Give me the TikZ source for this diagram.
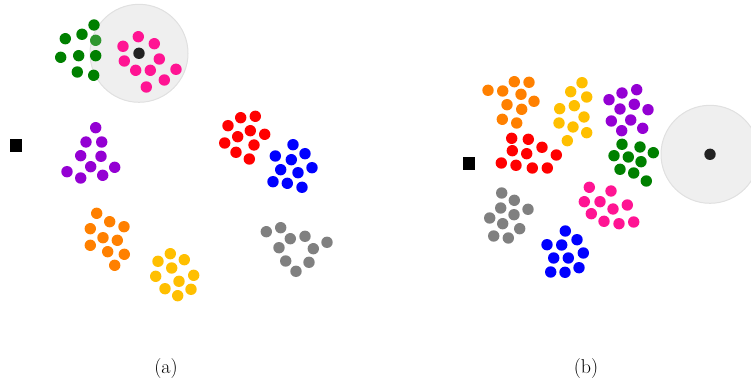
\documentclass[tikz,border=0pt]{standalone}
\begin{document}
\begin{tikzpicture}[x=1pt,y=-1pt,
  dot/.style={circle,inner sep=0pt,minimum size=11.4pt},
  zone/.style={fill=zonefill,draw=zoneedge,line width=1pt},
  lab/.style={font=\fontsize{20}{24}\selectfont}]
\definecolor{cgreen}{HTML}{008000}
\definecolor{cpink}{HTML}{FF1493}
\definecolor{cpurple}{HTML}{9400D3}
\definecolor{cred}{HTML}{FF0000}
\definecolor{cblue}{HTML}{0000FF}
\definecolor{corange}{HTML}{FF8000}
\definecolor{cyellow}{HTML}{FFBF00}
\definecolor{cgray}{HTML}{808080}
\definecolor{zonefill}{HTML}{EFEFEF}
\definecolor{zoneedge}{HTML}{E0E0E0}
\definecolor{cdark}{HTML}{222222}
\useasboundingbox (0,0) rectangle (751,387);
\begin{scope}
\clip (0,0) rectangle (751,387);
% zones
\fill[zone] (139,53.3) circle (49);
\fill[zone] (710,154.3) circle (49);
% (a) clusters
\foreach \p in {(94,25),(65.3,38.7),(82,34.3),(60.7,57.3),(78.7,55.7),(95.7,55.7),(77.3,72),(93.7,75.3)}
  \fill[cgreen] \p circle (5.7);
\fill[cgreen,opacity=0.8] (95.7,40.3) circle (5.7);
\foreach \p in {(138.3,36.7),(123,46.3),(154.3,43.7),(124.3,61),(159.3,59),(135.7,70.3),(150.3,70.3),(176,69.3),(164.3,80),(146.3,87)}
  \fill[cpink] \p circle (5.7);
\foreach \p in {(95.7,127.7),(86,142),(101.7,142),(80.7,155.7),(101,156.3),(90.7,166.7),(114.7,167.3),(67,171.7),(80.7,178),(102.7,175.3)}
  \fill[cpurple] \p circle (5.7);
\foreach \p in {(240.7,117.7),(255.3,116.3),(228,125.7),(250.3,130.7),(264.7,134.3),(237.7,136.7),(224.7,143),(254,145),(236,152.3),(249.3,159)}
  \fill[cred] \p circle (5.7);
\foreach \p in {(293,144.7),(275.3,156),(305,153.7),(291.3,159.7),(280.7,169.7),(298,172.7),(312,167.7),(273,181.7),(287.3,183.3),(302,187.3)}
  \fill[cblue] \p circle (5.7);
\foreach \p in {(96.7,213.3),(109.7,221.7),(90.3,228.7),(124,226.7),(103,237.7),(117.3,240.3),(90.3,245.3),(107.7,251.7),(124.3,254.3),(114.7,265.3)}
  \fill[corange] \p circle (5.7);
\foreach \p in {(170.3,253.7),(158,261.3),(184.3,259.7),(171.7,268),(155.7,276.3),(193.7,275.3),(179,281.3),(165,288.7),(191,289.3),(177.7,295.7)}
  \fill[cyellow] \p circle (5.7);
\foreach \p in {(266.3,231.7),(280.7,227.7),(290.3,238.7),(305,236.3),(327,242.3),(279,247.7),(313.3,248.7),(285.7,261),(309,262.3),(296,271.3)}
  \fill[cgray] \p circle (5.7);
% (b) clusters
\foreach \p in {(514.3,81.7),(529,82.3),(488,90.3),(502.7,91),(521,94.3),(534,101.3),(507,104.7),(521.7,109.3),(502.3,119.3),(516.7,123)}
  \fill[corange] \p circle (5.7);
\foreach \p in {(582,82.7),(570.7,91.7),(586.7,97),(574.3,105.7),(559.7,108.7),(584,117),(559,123),(573,127),(586.7,132.7),(567.3,140.7)}
  \fill[cyellow] \p circle (5.7);
\foreach \p in {(636.7,89.7),(622,93),(609,99.7),(634.3,104.3),(620,109),(648,109.7),(611.3,121),(630.7,120),(642.7,128.3),(621.7,130.7)}
  \fill[cpurple] \p circle (5.7);
\foreach \p in {(511.7,138.3),(528.3,139.3),(542,147.3),(512.3,150.7),(526.7,153.7),(556.3,155),(501.3,163),(516,165.3),(532.3,168),(547.3,168)}
  \fill[cred] \p circle (5.7);
\foreach \p in {(622,144.3),(640,147),(653.3,152.7),(614,155.7),(628.3,157),(641,161.7),(620,169.3),(633.7,173),(646.3,181)}
  \fill[cgreen] \p circle (5.7);
\foreach \p in {(501.7,193),(514.3,200.3),(500.7,208),(528,209.3),(514,214.7),(489.7,218),(502.7,223.7),(519.7,228.7),(493.7,236),(508.3,238)}
  \fill[cgray] \p circle (5.7);
\foreach \p in {(589.3,187.3),(611,191),(584.3,201.7),(600,201.7),(627.3,205),(613,209),(591.3,213.7),(604,221.3),(619,223.7),(633.7,222)}
  \fill[cpink] \p circle (5.7);
\foreach \p in {(565.3,231),(547,244.7),(577,239.7),(561.7,245),(583.3,253),(553.7,258),(568.3,258),(550.7,272),(565,272.3),(579,267.7)}
  \fill[cblue] \p circle (5.7);
% centres
\fill[cdark] (139,53.3) circle (5.7);
\fill[cdark] (710,154.3) circle (5.7);
\end{scope}
% squares
\node[fill=black,minimum size=12.5pt,inner sep=0pt] (sqa) at (15.8,145.7) {};
\node[fill=black,minimum size=12.5pt,inner sep=0pt] (sqb) at (469,163.7) {};
% labels
\node[lab] (la) at (166,369) {(a)};
\node[lab] (lb) at (586,369) {(b)};
\end{tikzpicture}
\end{document}
